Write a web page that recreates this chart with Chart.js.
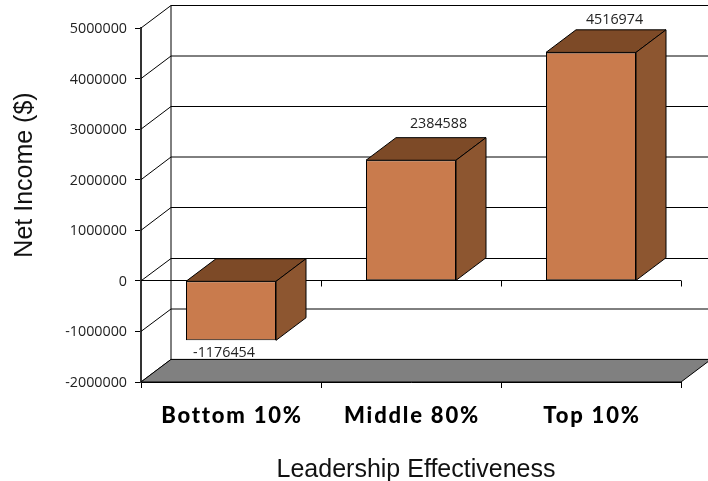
<!DOCTYPE html>
<html>
<head>
<meta charset="utf-8">
<style>html,body{margin:0;padding:0;background:#fff}canvas{display:block}</style>
<script src="https://cdn.jsdelivr.net/npm/chart.js@4"></script>
</head>
<body>
<canvas id="c" width="708" height="481"></canvas>
<script>
const categories = ["Bottom 10%", "Middle 80%", "Top 10%"];
const netIncome = [-1176454, 2384588, 4516974];
const yMin = -2000000;
const yMax = 5000000;
const yStep = 1000000;
const xAxisTitle = "Leadership Effectiveness";
const yAxisTitle = "Net Income ($)";

const DX = 30, DY = -22.6;
const FRONT = "#C97B4D", TOP = "#7D4A27", SIDE = "#8D5630", FLOOR = "#808080";

function poly(ctx, pts, fill) {
  ctx.beginPath();
  pts.forEach((p, i) => i ? ctx.lineTo(p[0], p[1]) : ctx.moveTo(p[0], p[1]));
  ctx.closePath();
  if (fill) { ctx.fillStyle = fill; ctx.fill(); }
  ctx.strokeStyle = "#000"; ctx.lineWidth = 1; ctx.stroke();
}
function seg(ctx, x1, y1, x2, y2, w) {
  ctx.beginPath(); ctx.moveTo(x1, y1); ctx.lineTo(x2, y2);
  ctx.strokeStyle = "#000"; ctx.lineWidth = w || 1; ctx.stroke();
}
function wrapScale(s, spacing, lx, ly, tx, ty) {
  if (s._wrapped) return;
  s._wrapped = true;
  const dl = s.drawLabels.bind(s), dt = s.drawTitle.bind(s);
  s.drawLabels = a => {
    s.ctx.save(); s.ctx.translate(lx, ly); s.ctx.letterSpacing = spacing;
    dl(a);
    s.ctx.letterSpacing = "0px"; s.ctx.restore();
  };
  s.drawTitle = () => { s.ctx.save(); s.ctx.translate(tx, ty); dt(); s.ctx.restore(); };
}

const walls = {
  id: "walls",
  beforeDatasetsDraw(chart) {
    const { ctx, scales: { x, y }, chartArea: a } = chart;
    ctx.save();
    for (let v = yMin; v <= yMax; v += yStep) {
      const py = y.getPixelForValue(v);
      const by = Math.round((py + DY) * 2) / 2;
      seg(ctx, a.left + DX, by, a.right + DX, by);
      seg(ctx, a.left, py, a.left + DX, by);
    }
    seg(ctx, a.left + DX, a.top + DY, a.left + DX, a.bottom + DY);
    const fy = y.getPixelForValue(yMin);
    poly(ctx, [[a.left, fy], [a.right, fy], [a.right + DX, fy + DY], [a.left + DX, fy + DY]], FLOOR);
    const zy = Math.round(y.getPixelForValue(0)) - 0.5;
    seg(ctx, a.left, zy, a.right, zy);
    categories.forEach((c, i) => {
      const tx = Math.round(x.getPixelForValue(i + 0.5)) + 0.5;
      seg(ctx, tx, zy, tx, zy + 6);
    });
    ctx.restore();
  }
};

const LABEL_SHIFT = [[-7, 13], [27.5, -14], [23.5, -10]];
const faces = {
  id: "faces",
  afterDatasetsDraw(chart) {
    const { ctx } = chart;
    const bars = chart.getDatasetMeta(0).data;
    ctx.save();
    bars.forEach((b, i) => {
      const hw = b.width / 2, l = b.x - hw, r = b.x + hw;
      const top = Math.min(b.y, b.base), bot = Math.max(b.y, b.base);
      poly(ctx, [[l, top], [r, top], [r + DX, top + DY], [l + DX, top + DY]], TOP);
      poly(ctx, [[r, top], [r + DX, top + DY], [r + DX, bot + DY], [r, bot]], SIDE);
      const s = LABEL_SHIFT[i];
      const anchor = netIncome[i] < 0 ? bot : top + DY;
      ctx.fillStyle = "#222";
      ctx.font = "14.3px 'Open Sans'";
      ctx.textAlign = "center";
      ctx.textBaseline = "middle";
      ctx.fillText(String(netIncome[i]), b.x + s[0], anchor + s[1]);
    });
    ctx.restore();
  }
};

new Chart(document.getElementById("c"), {
  type: "bar",
  data: {
    labels: categories,
    datasets: [{
      data: netIncome,
      backgroundColor: FRONT,
      borderColor: "#000",
      borderWidth: 1,
      borderSkipped: false,
      barPercentage: 0.5,
      categoryPercentage: 1
    }]
  },
  plugins: [walls, faces],
  options: {
    responsive: false,
    animation: false,
    events: [],
    layout: { padding: { top: 28, right: 27, left: 0, bottom: 0 } },
    plugins: { legend: { display: false }, tooltip: { enabled: false }, title: { display: false } },
    scales: {
      x: {
        afterFit(s) { s.height = 99; wrapScale(s, "1.8px", 1, 0, 5, 4); },
        border: { display: true, color: "#000", width: 1 },
        grid: { display: true, drawOnChartArea: false, drawTicks: true, offset: true, tickLength: 6, color: "#000" },
        ticks: { color: "#000", padding: 15, maxRotation: 0, font: { family: "Lato", weight: "900", size: 22 } },
        title: { display: true, text: xAxisTitle, color: "#111", padding: { top: 0, bottom: 0 }, font: { family: "Liberation Sans", size: 25 } }
      },
      y: {
        min: yMin, max: yMax,
        afterFit(s) { s.width = 141; wrapScale(s, "0px", 0, 1, 0, -30); },
        border: { display: true, color: "#333", width: 2 },
        grid: { display: true, drawOnChartArea: false, drawTicks: true, tickLength: 6, color: "#000" },
        ticks: { stepSize: yStep, color: "#222", padding: 8, autoSkip: false, callback: v => String(v), font: { family: "Open Sans", size: 14.3 } },
        title: { display: true, text: yAxisTitle, color: "#111", padding: { top: 10, bottom: 0 }, font: { family: "Liberation Sans", size: 25 } }
      }
    }
  }
});
</script>
</body>
</html>
